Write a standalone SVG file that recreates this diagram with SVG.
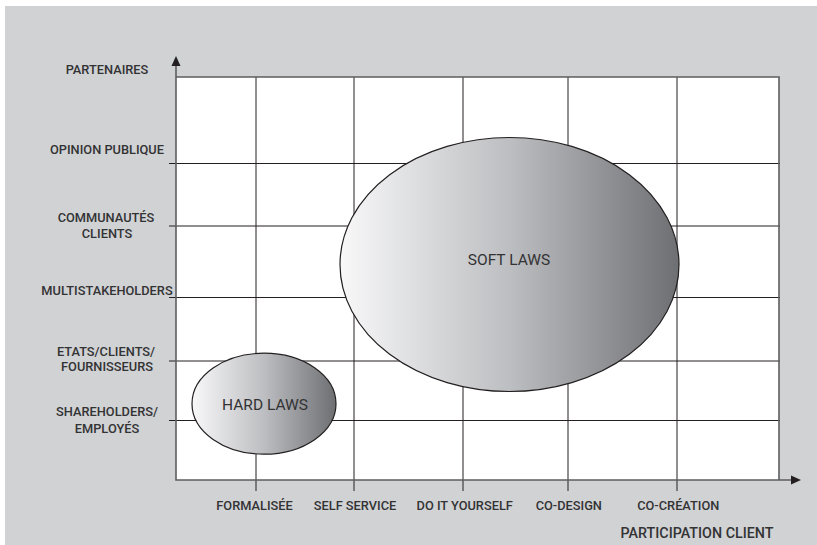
<svg xmlns="http://www.w3.org/2000/svg" width="817" height="545" viewBox="0 0 817 545">
<style>
.lbl{font-family:Roboto,"Liberation Sans",sans-serif;font-size:12.8px;font-weight:500;fill:#333334;text-anchor:middle}
.big{font-family:Roboto,"Liberation Sans",sans-serif;font-size:15.5px;font-weight:400;fill:#333334;text-anchor:middle}
.grid{stroke:#231f20;stroke-width:1;fill:none}
.frame{stroke:#5d5e60;stroke-width:1.6;fill:none}
.ell{stroke:#231f20;stroke-width:1.2}
</style>
<defs>
<linearGradient id="g" x1="0" y1="0" x2="1" y2="0">
<stop offset="0" stop-color="#f8f8f9"/>
<stop offset="0.5" stop-color="#bdbec1"/>
<stop offset="1" stop-color="#6e6f72"/>
</linearGradient>
</defs>
<rect x="0" y="0" width="817" height="545" fill="#ffffff"/>
<rect x="5" y="6" width="812" height="539" fill="#d1d2d4"/>
<rect x="176" y="77" width="603" height="403" fill="#ffffff"/>
<g id="connectors">
<g class="grid">
<line x1="256" y1="77" x2="256" y2="491"/>
<line x1="354" y1="77" x2="354" y2="491"/>
<line x1="463" y1="77" x2="463" y2="491"/>
<line x1="568" y1="77" x2="568" y2="491"/>
<line x1="677" y1="77" x2="677" y2="491"/>
<line x1="169" y1="163.5" x2="780" y2="163.5"/>
<line x1="169" y1="226" x2="780" y2="226"/>
<line x1="169" y1="297.5" x2="780" y2="297.5"/>
<line x1="169" y1="361" x2="780" y2="361"/>
<line x1="169" y1="420.5" x2="780" y2="420.5"/>
</g>
<path class="frame" d="M176 66 V480 H791 M176 77 H779 V480"/>
<polygon points="176,56 171.5,66 180.5,66" fill="#231f20"/>
<polygon points="801,480 791,475.5 791,484.5" fill="#231f20"/>
</g>
<g id="soft-laws">
<ellipse class="ell" cx="509.5" cy="264.5" rx="169.5" ry="127" fill="url(#g)"/>
<text class="big" x="509" y="265">SOFT LAWS</text>
</g>
<g id="hard-laws">
<ellipse class="ell" cx="264" cy="403.7" rx="72" ry="50.5" fill="url(#g)"/>
<text class="big" x="265" y="410" font-size="16">HARD LAWS</text>
</g>
<g id="y-labels">
<text class="lbl" x="107" y="74">PARTENAIRES</text>
<text class="lbl" x="107" y="154">OPINION PUBLIQUE</text>
<text class="lbl" x="106" y="221.5">COMMUNAUTÉS</text>
<text class="lbl" x="107" y="237.5">CLIENTS</text>
<text class="lbl" x="107" y="295">MULTISTAKEHOLDERS</text>
<text class="lbl" x="106" y="355.5">ETATS/CLIENTS/</text>
<text class="lbl" x="107" y="371">FOURNISSEURS</text>
<text class="lbl" x="107" y="415.5">SHAREHOLDERS/</text>
<text class="lbl" x="107" y="432.5">EMPLOYÉS</text>
</g>
<g id="x-labels">
<text class="lbl" x="254.5" y="510">FORMALISÉE</text>
<text class="lbl" x="355" y="510">SELF SERVICE</text>
<text class="lbl" x="464.7" y="510">DO IT YOURSELF</text>
<text class="lbl" x="568.8" y="510">CO-DESIGN</text>
<text class="lbl" x="678.3" y="510">CO-CRÉATION</text>
<text class="lbl" x="697" y="538.3" style="font-size:14.3px">PARTICIPATION CLIENT</text>
</g>
</svg>
